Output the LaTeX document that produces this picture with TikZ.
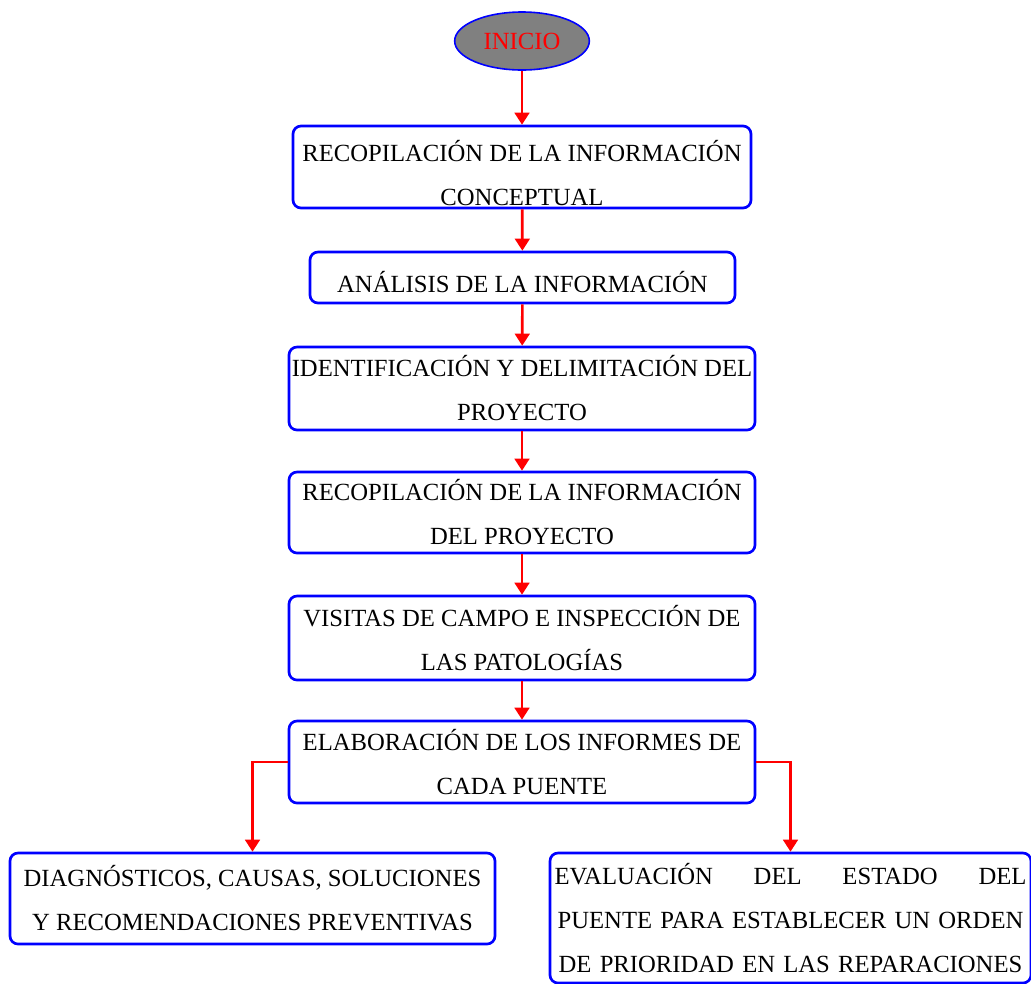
\documentclass[tikz,border=0pt]{standalone}
\usepackage{fontspec}
\setmainfont{Liberation Serif}
\usetikzlibrary{shapes.geometric, arrows.meta}

\begin{document}
\begin{tikzpicture}[x=0.75pt, y=-0.75pt,
    caja/.style={draw=blue, line width=2pt, rounded corners=6pt, align=center,
        inner sep=0pt, font=\fontsize{18.5}{33}\selectfont},
    flecha/.style={draw=red, line width=2pt, -{Triangle[length=9pt, width=11pt]}}]
    % Marco
    \useasboundingbox (0,0) rectangle (1031,983);

    % Inicio
    \node[ellipse, draw=blue, line width=1.2pt, fill=gray, text=red,
        minimum width=101pt, minimum height=43.5pt, inner sep=0pt,
        font=\fontsize{18.5}{22}\selectfont] (inicio) at (522,41) {INICIO};

    % Pasos
    \node[caja, minimum width=343.5pt, minimum height=61.5pt, text height=58.5pt] (r1) at (522,167)
        {RECOPILACIÓN DE LA INFORMACIÓN\\CONCEPTUAL};
    \node[caja, minimum width=318.75pt, minimum height=38.25pt, text height=22pt] (r2) at (522.5,277.5)
        {ANÁLISIS DE LA INFORMACIÓN};
    \node[caja, minimum width=349.5pt, minimum height=62.25pt] (r3) at (522,388.5)
        {IDENTIFICACIÓN Y DELIMITACIÓN DEL\\PROYECTO};
    \node[caja, minimum width=349.5pt, minimum height=60.75pt] (r4) at (522,512.5)
        {RECOPILACIÓN DE LA INFORMACIÓN\\DEL PROYECTO};
    \node[caja, minimum width=349.5pt, minimum height=63pt] (r5) at (522,638)
        {VISITAS DE CAMPO E INSPECCIÓN DE\\LAS PATOLOGÍAS};
    \node[caja, minimum width=349.5pt, minimum height=61.5pt] (r6) at (522,762)
        {ELABORACIÓN DE LOS INFORMES DE\\CADA PUENTE};

    % Resultados
    \node[caja, minimum width=363.75pt, minimum height=68.25pt] (r7) at (252.5,898.5)
        {DIAGNÓSTICOS, CAUSAS, SOLUCIONES\\Y RECOMENDACIONES PREVENTIVAS};
    \node[caja, minimum width=360.75pt, minimum height=97.5pt, text width=354pt] (r8) at (790.5,918)
        {EVALUACIÓN\hfill DEL\hfill ESTADO\hfill DEL\\PUENTE PARA ESTABLECER UN ORDEN\\DE PRIORIDAD EN LAS REPARACIONES};

    % Flechas
    \draw[flecha] (inicio) -- (r1);
    \draw[flecha] (r1) -- (r2);
    \draw[flecha] (r2) -- (r3);
    \draw[flecha] (r3) -- (r4);
    \draw[flecha] (r4) -- (r5);
    \draw[flecha] (r5) -- (r6);
    \draw[flecha] (r6.west) -| (r7.north);
    \draw[flecha] (r6.east) -| (r8.north);
\end{tikzpicture}
\end{document}
